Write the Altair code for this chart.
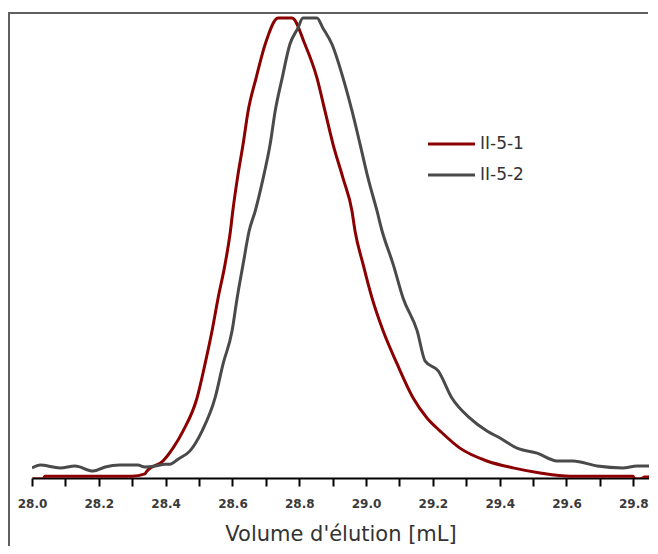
import altair as alt
import pandas as pd

# Series II-5-1 (elution volume in mL, normalised detector signal)
x_1 = [28.000, 28.033, 28.039, 28.299, 28.338, 28.344, 28.392, 28.422, 28.452, 28.494,
       28.518, 28.539, 28.557, 28.578, 28.594, 28.601, 28.615, 28.632, 28.647, 28.671,
       28.698, 28.737, 28.778, 28.817, 28.853, 28.877, 28.901, 28.931, 28.958, 28.967,
       28.991, 29.018, 29.051, 29.093, 29.141, 29.183, 29.222, 29.281, 29.362, 29.440,
       29.521, 29.611, 29.799, 29.805, 29.820, 29.835, 29.874]
y_1 = [-0.2, -0.2, 0.4, 0.4, 0.9, 1.5, 3.7, 6.5, 10.2, 17.4,
       24.8, 32.0, 39.1, 46.5, 53.7, 58.0, 65.2, 72.6, 79.8, 87.0,
       94.3, 100.0, 100.0, 94.3, 87.0, 79.8, 72.6, 65.2, 58.0, 53.7,
       46.5, 39.1, 32.0, 24.8, 17.4, 13.0, 10.2, 6.5, 3.7, 2.2,
       1.1, 0.4, 0.4, -0.2, -0.2, 0.2, 0.2]

# Series II-5-2
x_2 = [28.000, 28.024, 28.084, 28.129, 28.183, 28.219, 28.263, 28.317, 28.338, 28.368,
       28.398, 28.413, 28.437, 28.473, 28.509, 28.548, 28.572, 28.599, 28.614, 28.632,
       28.650, 28.668, 28.692, 28.713, 28.728, 28.749, 28.772, 28.796, 28.811, 28.853,
       28.871, 28.898, 28.931, 28.958, 28.982, 29.006, 29.033, 29.048, 29.081, 29.111,
       29.153, 29.177, 29.216, 29.257, 29.311, 29.362, 29.401, 29.452, 29.512, 29.572,
       29.620, 29.692, 29.769, 29.811, 29.874]
y_2 = [2.2, 2.8, 2.2, 2.6, 1.5, 2.4, 2.8, 2.8, 2.4, 2.6,
       3.0, 3.0, 4.1, 5.9, 10.2, 17.4, 24.8, 32.0, 39.1, 46.5,
       53.7, 58.0, 65.2, 72.6, 79.8, 87.0, 94.3, 97.8, 100.0, 100.0,
       97.8, 94.3, 87.0, 79.8, 72.6, 65.2, 58.0, 53.7, 46.5, 39.1,
       32.0, 25.4, 23.3, 17.4, 13.0, 10.2, 8.7, 6.5, 5.4, 3.7,
       3.7, 2.6, 2.2, 2.6, 2.6]

series_names = ["II-5-1", "II-5-2"]
series_colors = ["#8b0000", "#4a4a4a"]
tick_values = [round(28.0 + 0.1 * i, 1) for i in range(19)]
x_title = "Volume d'élution [mL]"
x_domain = [28.0, 29.847]

df = pd.concat([
    pd.DataFrame({"x": x_1, "y": y_1, "s": series_names[0], "o": range(len(x_1))}),
    pd.DataFrame({"x": x_2, "y": y_2, "s": series_names[1], "o": range(len(x_2))}),
])

W, H = 617, 465

color_scale = alt.Scale(domain=series_names, range=series_colors)

lines = alt.Chart(df).mark_line(strokeWidth=3, clip=True, interpolate="monotone").encode(
    x=alt.X("x:Q",
            scale=alt.Scale(domain=x_domain, nice=False, zero=False),
            axis=alt.Axis(
                values=tick_values,
                labelExpr="round(datum.value*10) % 2 == 0 ? format(datum.value, '.1f') : ''",
                title=x_title, titleFont="DejaVu Sans", titleFontSize=21,
                titleFontWeight="normal", titleColor="#333333", titlePadding=14,
                labelFont="DejaVu Sans", labelFontSize=12, labelFontWeight="bold",
                labelColor="#3a3a3a", labelPadding=12, labelFlush=False,
                tickSize=8, tickColor="#000000", tickWidth=2,
                domainColor="#000000", domainWidth=2, grid=False)),
    y=alt.Y("y:Q", scale=alt.Scale(domain=[0, 101.1], nice=False), axis=None),
    color=alt.Color("s:N", scale=color_scale, legend=None),
    order="o:Q",
)

frame_left = alt.Chart(df).mark_rule(color="#606060", strokeWidth=2).encode(
    x=alt.value(-23), y=alt.value(-1), y2=alt.value(533))
frame_top = alt.Chart(df).mark_rule(color="#606060", strokeWidth=2).encode(
    x=alt.value(-23), x2=alt.value(W - 1), y=alt.value(0))

leg_df = pd.DataFrame({"s": series_names, "row": [0, 1]})
row_scale = alt.Scale(domain=[0, 1], range=[131, 162])
leg_lines = alt.Chart(leg_df).mark_rule(strokeWidth=3).encode(
    x=alt.value(396), x2=alt.value(443),
    y=alt.Y("row:Q", scale=row_scale, axis=None),
    color=alt.Color("s:N", scale=color_scale, legend=None),
)
leg_text = alt.Chart(leg_df).mark_text(
    align="left", baseline="middle", font="DejaVu Sans", fontSize=17, color="#333333"
).encode(
    x=alt.value(448),
    y=alt.Y("row:Q", scale=row_scale, axis=None),
    text="s:N",
)

chart = alt.layer(frame_left, frame_top, lines, leg_lines, leg_text).resolve_scale(
    y="independent"
).properties(
    width=W, height=H,
    padding={"left": 0, "top": 3, "right": 0, "bottom": 0},
).configure_view(stroke=None)

chart.save("out.html", embed_options={"renderer": "svg", "actions": False})
